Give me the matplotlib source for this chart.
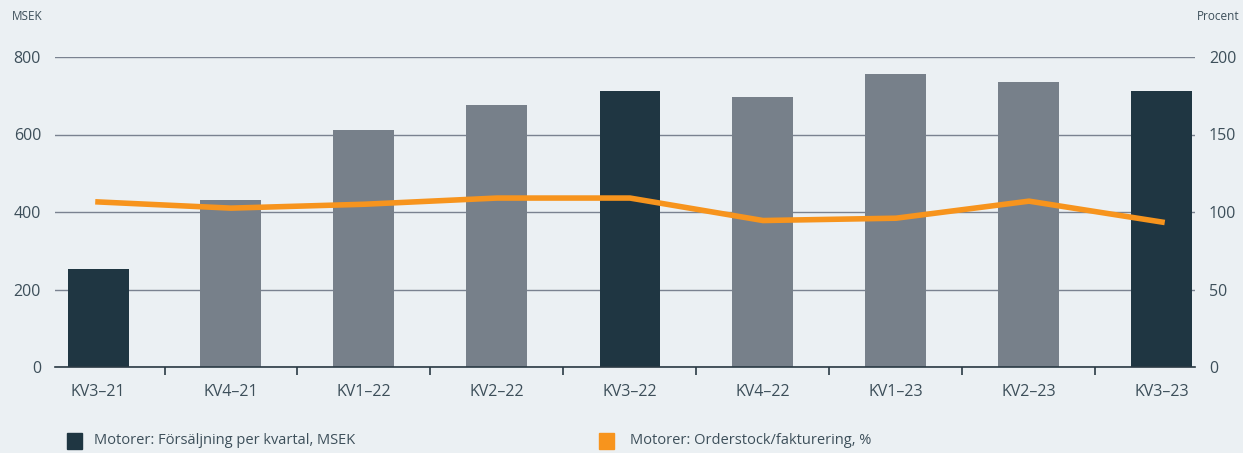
import matplotlib.pyplot as plt
from matplotlib.patches import Rectangle

quarters = ['KV3–21', 'KV4–21', 'KV1–22', 'KV2–22', 'KV3–22', 'KV4–22', 'KV1–23', 'KV2–23', 'KV3–23']
sales = [253, 431, 611, 676, 712, 697, 756, 735, 712]
orderstock = [106.5, 102.5, 105, 109, 109, 94.5, 96, 107, 93.5]
highlight = [True, False, False, False, True, False, False, False, True]

bg = '#ebf0f3'
dark = '#1f3642'
grey = '#77808a'
orange = '#f7941d'
txt = '#3d4f5a'
gridc = '#7a8290'

plt.rcParams['font.family'] = ['Open Sans', 'DejaVu Sans']

fig = plt.figure(figsize=(12.43, 4.53), dpi=100)
fig.set_facecolor(bg)
ax = fig.add_axes([55 / 1243, 1 - 367 / 453, (1195 - 55) / 1243, 310 / 453])
ax.set_facecolor(bg)

x = list(range(len(quarters)))
cols = [dark if h else grey for h in highlight]
ax.bar(x, sales, width=61 / 133, color=cols, zorder=2)
ax.set_xlim((55 - 98) / 133, (1195 - 98) / 133)
ax.set_ylim(0, 800)
ax.set_yticks([0, 200, 400, 600, 800])
ax.grid(axis='y', color=gridc, linewidth=1, zorder=0)
for s in ['top', 'right', 'left']:
    ax.spines[s].set_visible(False)
ax.spines['bottom'].set_color('#2a3a44')
ax.spines['bottom'].set_linewidth(1.2)
ax.spines['bottom'].set_zorder(3)
ax.set_xticks(x)
ax.set_xticklabels(quarters)
ax.set_xticks([i + 0.5 for i in range(len(quarters) - 1)], minor=True)
ax.tick_params(axis='x', which='major', length=0, pad=12, labelsize=11.5, colors=txt)
ax.tick_params(axis='x', which='minor', length=6, width=1.2, color='#2a3a44')
ax.tick_params(axis='y', length=0, pad=10, labelsize=11.5, colors=txt)

ax2 = ax.twinx()
ax2.set_ylim(0, 200)
ax2.set_yticks([0, 50, 100, 150, 200])
for s in ax2.spines.values():
    s.set_visible(False)
ax2.tick_params(axis='y', length=0, pad=10, labelsize=11.5, colors=txt)
ax2.plot(x, orderstock, color=orange, linewidth=4, solid_joinstyle='miter', zorder=4)

fig.text(12 / 1243, 1 - 17 / 453, 'MSEK', fontsize=8.5, color=txt, va='center', ha='left')
fig.text(1240 / 1243, 1 - 17 / 453, 'Procent', fontsize=8.5, color=txt, va='center', ha='right')

fig.patches.append(Rectangle((67 / 1243, 1 - 449 / 453), 15 / 1243, 16 / 453,
                             transform=fig.transFigure, color=dark))
fig.text(94 / 1243, 1 - 441 / 453, 'Motorer: Försäljning per kvartal, MSEK', fontsize=10.5, color=txt, va='center')
fig.patches.append(Rectangle((599 / 1243, 1 - 449 / 453), 15 / 1243, 16 / 453,
                             transform=fig.transFigure, color=orange))
fig.text(630 / 1243, 1 - 441 / 453, 'Motorer: Orderstock/fakturering, %', fontsize=10.5, color=txt, va='center')

fig.savefig('out.png', dpi=100, facecolor=bg)
